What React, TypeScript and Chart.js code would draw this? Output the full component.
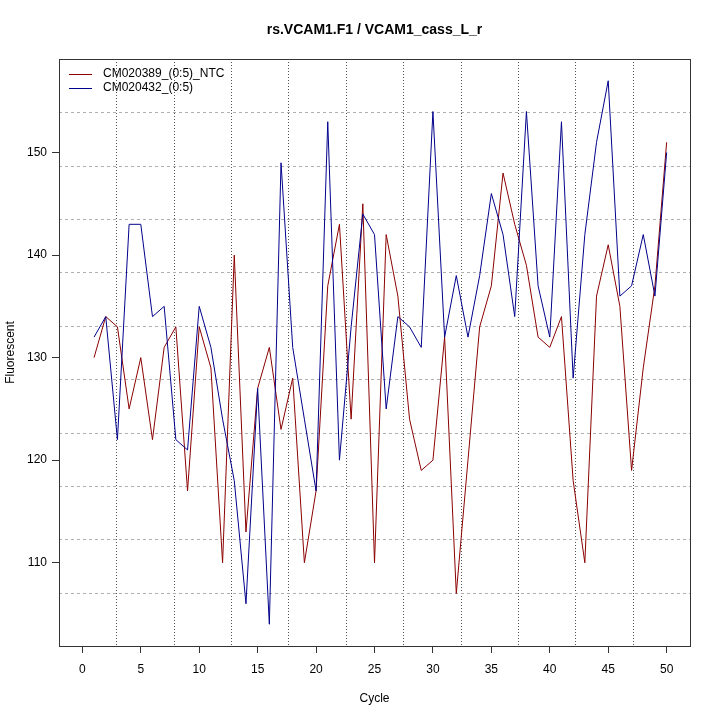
import React, { useEffect, useRef } from "react";
import { Chart, registerables } from "chart.js";

Chart.register(...registerables);

// ---- data ----
const CYCLES = [
  1, 2, 3, 4, 5, 6, 7, 8, 9, 10,
  11, 12, 13, 14, 15, 16, 17, 18, 19, 20,
  21, 22, 23, 24, 25, 26, 27, 28, 29, 30,
  31, 32, 33, 34, 35, 36, 37, 38, 39, 40,
  41, 42, 43, 44, 45, 46, 47, 48, 49, 50,
];

const NTC_LABEL = "CM020389_(0:5)_NTC";
const NTC_VALUES = [
  130, 134, 133, 125, 130, 122, 131, 133, 117, 133,
  129, 110, 140, 113, 127, 131, 123, 128, 110, 117,
  137, 143, 124, 145, 110, 142, 136, 124, 119, 120,
  132, 107, 120, 133, 137, 148, 143, 139, 132, 131,
  134, 118, 110, 136, 141, 135, 119, 129, 137, 151,
];

const SAMPLE_LABEL = "CM020432_(0:5)";
const SAMPLE_VALUES = [
  132, 134, 122, 143, 143, 134, 135, 122, 121, 135,
  131, 124, 118, 106, 127, 104, 149, 131, 124, 117,
  153, 120, 133, 144, 142, 125, 134, 133, 131, 154,
  132, 138, 132, 138, 146, 142, 134, 154, 137, 132,
  153, 128, 142, 151, 157, 136, 137, 142, 136, 150,
];

const X_TICKS = [0, 5, 10, 15, 20, 25, 30, 35, 40, 45, 50];
const Y_TICKS = [110, 120, 130, 140, 150];
const X_MIN = -2;
const X_MAX = 52;
const Y_MIN = 101.88;
const Y_MAX = 159.12;

const TITLE = "rs.VCAM1.F1 / VCAM1_cass_L_r";
const X_TITLE = "Cycle";
const Y_TITLE = "Fluorescent";

const RED = "#8b0000";
const BLUE = "#00008b";
const FONT = "'Liberation Sans', Arial, Helvetica, sans-serif";
const GRID_DIVISIONS = 11;

const decorPlugin = {
  id: "decor",
  beforeDatasetsDraw(chart: any) {
    const { ctx, chartArea } = chart;
    const { left, right, top, bottom } = chartArea;
    ctx.save();
    ctx.lineWidth = 1;
    // vertical dotted
    ctx.strokeStyle = "#555555";
    ctx.setLineDash([1, 2]);
    for (let k = 1; k < GRID_DIVISIONS; k++) {
      const x = Math.round(left + ((right - left) * k) / GRID_DIVISIONS) + 0.5;
      ctx.beginPath();
      ctx.moveTo(x, top);
      ctx.lineTo(x, bottom);
      ctx.stroke();
    }
    // horizontal dashed
    ctx.strokeStyle = "#b0b0b0";
    ctx.setLineDash([3, 3]);
    for (let k = 1; k < GRID_DIVISIONS; k++) {
      const y = Math.round(top + ((bottom - top) * k) / GRID_DIVISIONS) + 0.5;
      ctx.beginPath();
      ctx.moveTo(left, y);
      ctx.lineTo(right, y);
      ctx.stroke();
    }
    ctx.restore();
  },
  afterDraw(chart: any) {
    const { ctx, chartArea } = chart;
    const { left, right, top, bottom } = chartArea;
    ctx.save();
    // box
    ctx.setLineDash([]);
    ctx.strokeStyle = "#333333";
    ctx.lineWidth = 1;
    ctx.strokeRect(left + 0.5, top + 0.5, right - left, bottom - top);
    // title
    ctx.fillStyle = "#000";
    ctx.font = `bold 14px ${FONT}`;
    ctx.textAlign = "center";
    ctx.textBaseline = "middle";
    ctx.fillText(TITLE, (left + right) / 2, 30);
    // legend
    ctx.font = `12px ${FONT}`;
    ctx.textAlign = "left";
    const items = chart.data.datasets.map((d: any) => ({ label: d.label, color: d.borderColor }));
    items.forEach((it: any, i: number) => {
      const y = top + 14.5 + i * 14.4;
      ctx.strokeStyle = it.color;
      ctx.lineWidth = 1;
      ctx.beginPath();
      ctx.moveTo(left + 10, Math.round(y) + 0.5);
      ctx.lineTo(left + 33, Math.round(y) + 0.5);
      ctx.stroke();
      ctx.fillStyle = "#000";
      ctx.fillText(it.label, left + 44, y);
    });
    ctx.restore();
  },
};

export default function App() {
  const ref = useRef<HTMLCanvasElement | null>(null);

  useEffect(() => {
    document.body.style.margin = "0";
    const canvas = ref.current;
    if (!canvas) return;
    Chart.defaults.font.family = FONT;
    const chart = new Chart(canvas, {
      type: "line",
      data: {
        datasets: [
          {
            label: NTC_LABEL,
            data: CYCLES.map((c, i) => ({ x: c, y: NTC_VALUES[i] })),
            borderColor: RED,
            backgroundColor: RED,
            borderWidth: 1,
            pointRadius: 0,
            tension: 0,
            order: 1,
          },
          {
            label: SAMPLE_LABEL,
            data: CYCLES.map((c, i) => ({ x: c, y: SAMPLE_VALUES[i] })),
            borderColor: BLUE,
            backgroundColor: BLUE,
            borderWidth: 1,
            pointRadius: 0,
            tension: 0,
            order: 0,
          },
        ],
      },
      plugins: [decorPlugin],
      options: {
        animation: false,
        responsive: false,
        devicePixelRatio: 1,
        layout: { padding: { top: 59, right: 30, left: 0, bottom: 0 } },
        plugins: {
          legend: { display: false },
          title: { display: false },
          tooltip: { enabled: false },
        },
        scales: {
          x: {
            type: "linear",
            min: X_MIN,
            max: X_MAX,
            afterBuildTicks: (s: any) => {
              s.ticks = X_TICKS.map((v) => ({ value: v }));
            },
            afterFit: (s: any) => {
              s.height = 74;
            },
            grid: {
              display: true,
              drawOnChartArea: false,
              drawTicks: true,
              tickLength: 7,
              color: "#333333",
            },
            border: { display: false },
            ticks: {
              color: "#000",
              font: { size: 12, family: FONT },
              padding: 9,
              maxRotation: 0,
              autoSkip: false,
            },
            title: {
              display: true,
              text: X_TITLE,
              color: "#000",
              font: { size: 12, family: FONT },
              padding: { top: 0, bottom: 14 },
            },
          },
          y: {
            type: "linear",
            min: Y_MIN,
            max: Y_MAX,
            afterBuildTicks: (s: any) => {
              s.ticks = Y_TICKS.map((v) => ({ value: v }));
            },
            afterFit: (s: any) => {
              s.width = 59;
            },
            grid: {
              display: true,
              drawOnChartArea: false,
              drawTicks: true,
              tickLength: 7,
              color: "#333333",
            },
            border: { display: false },
            ticks: {
              color: "#000",
              font: { size: 12, family: FONT },
              padding: 5,
              autoSkip: false,
            },
            title: {
              display: true,
              text: Y_TITLE,
              color: "#000",
              font: { size: 12, family: FONT },
              padding: { top: 3, bottom: 0 },
            },
          },
        },
      },
    } as any);
    return () => chart.destroy();
  }, []);

  return (
    <div style={{ width: 720, height: 720 }}>
      <canvas ref={ref} width={720} height={720} style={{ display: "block" }} />
    </div>
  );
}
